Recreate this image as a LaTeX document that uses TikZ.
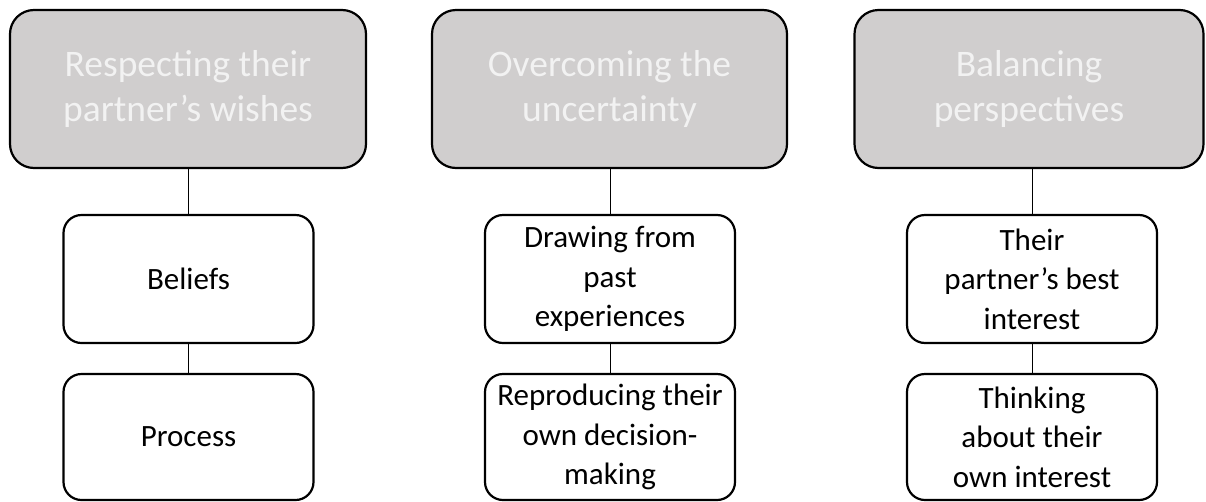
\documentclass[tikz,border=0pt]{standalone}
\usepackage{fontspec}
\setmainfont{Carlito}
\definecolor{BoxGray}{HTML}{D0CECE}
\definecolor{PaleText}{HTML}{F2F2F2}

\begin{document}
\begin{tikzpicture}[x=1pt,y=-1pt,
  theme/.style={draw,line width=2.2pt,rounded corners=24pt,fill=BoxGray,text=PaleText,
    minimum height=158pt,align=center,font=\fontsize{37.5}{45}\selectfont},
  sub/.style={draw,line width=2.2pt,rounded corners=18pt,fill=white,
    minimum width=250pt,align=center,font=\fontsize{31}{39.5}\selectfont},
  link/.style={line width=1pt}]
\useasboundingbox (0,0) rectangle (1206,501);

\node[theme,minimum width=356pt] (p1) at (188,89) {Respecting their\\partner’s wishes};
\node[theme,minimum width=355pt] (p2) at (609.5,89) {Overcoming the\\uncertainty};
\node[theme,minimum width=349pt] (p3) at (1029,89) {Balancing\\perspectives};

\node[sub,minimum height=128pt] (b1) at (188.5,279) {Beliefs};
\node[sub,minimum height=126pt] (c1) at (188.5,437) {Process};

\node[sub,minimum height=128pt] (b2) at (610,279) {Drawing from\\past\\experiences};
\node[sub,minimum height=126pt] (c2) at (610,437) {Reproducing their\\own decision-\\making};

\node[sub,minimum height=128pt] (b3) at (1032,279) {Their\\partner’s best\\interest};
\node[sub,minimum height=126pt] (c3) at (1032,437) {Thinking\\about their\\own interest};

\draw[link] (b1.north) -- (b1.north |- p1.south);
\draw[link] (b1) -- (c1);
\draw[link] (b2.north) -- (b2.north |- p2.south);
\draw[link] (b2) -- (c2);
\draw[link] (b3.north) -- (b3.north |- p3.south);
\draw[link] (b3) -- (c3);

\end{tikzpicture}
\end{document}
